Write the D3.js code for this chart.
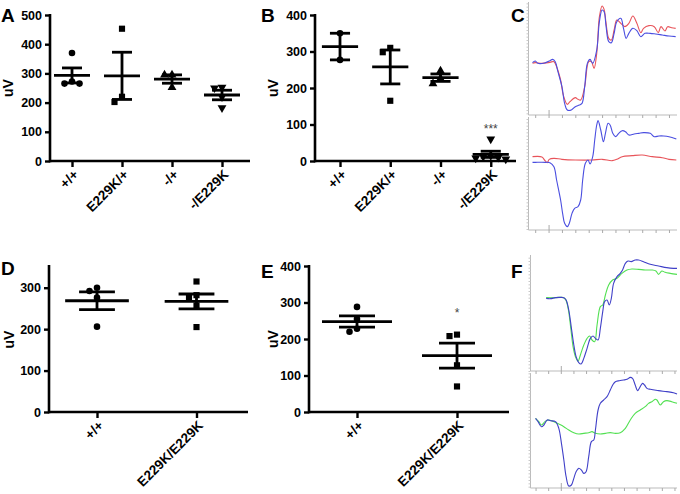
<!DOCTYPE html>
<html><head><meta charset="utf-8">
<script src="https://cdn.jsdelivr.net/npm/d3@7/dist/d3.min.js"></script>
<style>
body{margin:0;background:#fff;}
svg{display:block;font-family:"Liberation Sans",Arial,sans-serif;}
</style></head><body>
<svg id="fig" width="680" height="494"></svg>
<script>
// ---------- DATA ----------
const catsA = ["+/+", "E229K/+", "-/+", "-/E229K"];
const valsA = [[370, 265, 272, 265], [453, 202, 220], [295, 295, 252], [252, 250, 182, 220]];
const ticksA = [0, 100, 200, 300, 400, 500];

const catsB = ["+/+", "E229K/+", "-/+", "-/E229K"];
const valsB = [[350, 277], [310, 298, 165], [247, 226, 212], [60, 15, 10, 8, 5, 12]];
const ticksB = [0, 100, 200, 300, 400];
const starsB = ["", "", "", "***"];

const catsD = ["+/+", "E229K/E229K"];
const valsD = [[300, 292, 276, 206], [315, 282, 275, 257, 205]];
const ticksD = [0, 100, 200, 300];

const catsE = ["+/+", "E229K/E229K"];
const valsE = [[288, 255, 228, 220], [212, 208, 128, 70]];
const ticksE = [0, 100, 200, 300, 400];
const starsE = ["", "*"];

// ERG traces, [time (ms), amplitude]
const traceC1Red = [[-2,0],[0,4],[5,0],[11,6],[14,10],[16,-20],[19,-100],[21,-190],[24,-246],[26,-230],[30,-206],[32,-216],[34,-220],[37,-140],[40,10],[42,10],[44,-30],[46,60],[48,280],[50,344],[51.5,324],[53,240],[55,150],[57,140],[59,200],[61,260],[64,240],[67,220],[70,240],[73,284],[76,240],[79,184],[81,210],[85,226],[89,220],[92,184],[94,220],[97,194],[99,220],[102,214],[105,210]];
const traceC1Blue = [[-2,4],[0,14],[2,0],[7,2],[11,16],[13,24],[15,10],[17,-50],[20,-140],[22,-240],[24,-280],[27,-280],[30,-260],[33,-250],[35,-240],[37,-140],[39,0],[41,24],[43,0],[46,80],[48,250],[50,320],[51.5,310],[53,220],[55,130],[57,124],[59,180],[61,250],[64,270],[66,210],[68,150],[70,180],[73,210],[76,196],[79,160],[82,180],[86,180],[90,176],[95,170],[100,164],[105,160]];
const traceC2Red = [[-2,34],[5,32],[7,14],[9,-2],[10.5,18],[14,24],[20,18],[30,14],[42.5,14],[50,18],[57.5,10],[61,18],[65,34],[72.5,40],[80,44],[87.5,34],[95,28],[100,18],[105.5,14]];
const traceC2Blue = [[-2,0],[0,0],[7.5,0],[11,-2],[14,-26],[16,-106],[19,-226],[20.5,-306],[22,-366],[24,-386],[25.5,-366],[27.5,-306],[29.5,-276],[32,-266],[34,-226],[35.5,-106],[37.5,-6],[39.5,14],[41,-10],[43,34],[44.5,134],[46,224],[47,250],[49,194],[51,124],[52.5,174],[54.5,234],[56,224],[58,174],[60,154],[62.5,174],[65,190],[67.5,184],[70,164],[74,170],[77.5,174],[81,178],[86,174],[89,154],[92.5,158],[96,158],[100,154],[105.5,140]];
const traceF1Blue = [[8.4,-4],[11.8,-6],[15.8,0],[19.7,2],[22.4,0],[24.2,-14],[26.3,-74],[28.4,-184],[30.3,-284],[32.1,-354],[34.2,-390],[36.1,-398],[38.2,-364],[40.8,-304],[43.4,-244],[45.5,-230],[47.4,-244],[49.5,-254],[51.3,-184],[53.2,-84],[54.7,-24],[56.6,-14],[58.4,-44],[60,-4],[61.8,86],[64.5,126],[67.1,146],[68.9,166],[71.1,206],[73.2,220],[75.8,216],[78.9,226],[81.6,226],[85.5,216],[90.8,200],[97.4,190],[103.9,180],[109.2,176],[112,176]];
const traceF1Green = [[8.4,0],[15.8,0],[21,2],[23.7,-10],[25.8,-64],[27.9,-184],[29.7,-294],[31.6,-354],[33.7,-380],[35.5,-344],[38.2,-284],[40.8,-244],[42.9,-230],[44.7,-254],[46.8,-264],[48.7,-164],[51.3,-54],[53.2,-44],[55.3,16],[57.9,76],[61,106],[64.5,116],[68.4,146],[72.4,166],[76.3,172],[81.6,170],[86.8,166],[92.1,166],[95.3,160],[97.4,140],[100,160],[102.6,152],[106.6,146],[112,140]];
const traceF2Blue = [[0,10],[2,-10],[4.7,-40],[6.6,-30],[9.2,0],[11.8,-4],[15.8,-10],[18.4,-50],[20.5,-140],[22.4,-240],[24.2,-340],[26.3,-396],[28.4,-390],[30.3,-350],[32.1,-310],[34.2,-290],[36.3,-300],[38.2,-320],[40,-310],[42.1,-220],[44.2,-130],[46.1,-120],[47.4,-60],[49.5,60],[51.3,100],[53.9,120],[56.6,140],[59.2,180],[61.1,210],[63.2,230],[66.3,236],[69.7,240],[72.4,244],[75,256],[76.8,250],[78.9,210],[80.8,176],[82.9,200],[84.7,220],[86.3,210],[88.2,190],[90.8,184],[97.4,176],[103.9,170],[109.2,164],[112,156]];
const traceF2Green = [[0,10],[2.6,-10],[4.7,-30],[7.4,-10],[10,0],[14.5,-10],[18.4,-24],[22.4,-40],[26.3,-60],[30.3,-76],[34.2,-84],[38.2,-80],[42.1,-76],[44.7,-70],[47.4,-80],[51.3,-84],[55.3,-80],[59.2,-76],[63.2,-80],[67.1,-76],[71.1,-50],[75,0],[78.9,40],[82.9,60],[86.8,80],[89.5,100],[92.1,110],[94.7,124],[96.1,120],[98.7,90],[101.3,110],[103.9,116],[107.9,110],[112,100]];
const traceTicksC = [0,10,20,30,40,50,60,70,80,90,100];
const traceTicksF = [0,10,20,30,40,50,60,70,80,90,100,110];

// ---------- DRAWING ----------
const svg = d3.select("#fig");
const FONT = "'Liberation Sans',Arial,sans-serif";
const shapes = {
  circle: d3.symbol().type(d3.symbolCircle).size(34),
  square: d3.symbol().type(d3.symbolSquare).size(38),
  triangle: d3.symbol().type(d3.symbolTriangle).size(34),
  tridown: d3.symbol().type(d3.symbolTriangle).size(34)
};
const shapeNames = ["circle", "square", "triangle", "tridown"];

function scatterPanel(o) {
  const g = svg.append("g");
  const y = d3.scaleLinear().domain(o.domain).range([o.bottom, o.top]);
  const step = (o.right - o.left) / o.cats.length;
  const x = d3.scalePoint().domain(o.cats).range([o.left + o.firstOff, o.left + o.firstOff + step * (o.cats.length - 1)]);
  const st = (o.cats.length > 1) ? x.step() : step;

  // y axis
  const ya = d3.axisLeft(y).tickValues(o.ticks).tickSize(5).tickPadding(3).tickSizeOuter(0);
  const gy = g.append("g").attr("transform", `translate(${o.left},0)`).call(ya);
  gy.select(".domain").attr("stroke", "#000").attr("stroke-width", 2.6)
    .attr("d", `M0,${o.bottom + 1.3}V${o.axisTop}`);
  gy.selectAll(".tick line").attr("stroke", "#000").attr("stroke-width", 2.4);
  gy.selectAll(".tick text").attr("font-family", FONT).attr("font-weight", "bold")
    .attr("font-size", 12.5).attr("fill", "#000");

  // x axis
  const xa = d3.axisBottom(x).tickSize(6).tickFormat("");
  const gx = g.append("g").attr("transform", `translate(0,${o.bottom})`).call(xa);
  gx.select(".domain").attr("stroke", "#000").attr("stroke-width", 2.6)
    .attr("d", `M${o.left},0H${o.right}`);
  gx.selectAll(".tick line").attr("stroke", "#000").attr("stroke-width", 2.4);
  g.append("g").selectAll("text").data(o.cats).join("text")
    .attr("transform", d => `translate(${x(d) + 4},${o.bottom + 11}) rotate(-45)`)
    .attr("text-anchor", "end").attr("dy", "0.35em")
    .attr("font-family", FONT).attr("font-weight", "bold").attr("font-size", 13.5)
    .text(d => d);

  // y label
  g.append("text").attr("transform", `translate(${o.ylabX},${(o.top + o.bottom) / 2}) rotate(-90)`)
    .attr("text-anchor", "middle").attr("font-family", FONT).attr("font-weight", "bold")
    .attr("font-size", 14).text("uV");
  // panel letter
  g.append("text").attr("x", o.letterX).attr("y", o.letterY).attr("font-family", FONT)
    .attr("font-weight", "bold").attr("font-size", 19).text(o.letter);

  o.vals.forEach((vals, i) => {
    const cx = x(o.cats[i]);
    const mean = d3.mean(vals);
    const sem = d3.deviation(vals) / Math.sqrt(vals.length);
    // points with deterministic dodge
    const pts = vals.map(v => ({ v, py: y(v) })).sort((a, b) => a.py - b.py);
    const placed = [];
    const dx = 7.5, minD = 6.2;
    pts.forEach(p => {
      for (let k = 0; k < 20; k++) {
        const off = (k === 0) ? 0 : (k % 2 ? -1 : 1) * Math.ceil(k / 2) * dx;
        const ok = placed.every(q => Math.hypot(q.px - (cx + off), q.py - p.py) >= minD);
        if (ok) { p.px = cx + off; break; }
      }
      placed.push(p);
    });
    const sh = shapeNames[i % 4];
    g.append("g").selectAll("path").data(placed).join("path")
      .attr("d", shapes[sh]())
      .attr("transform", d => `translate(${d.px},${d.py})${sh === "tridown" ? " rotate(180)" : ""}`)
      .attr("fill", "#000");
    // mean & SEM
    const mw = st * o.meanFrac, cw = st * o.capFrac;
    const eb = g.append("g").attr("stroke", "#000").attr("stroke-width", 2.8);
    eb.append("line").attr("x1", cx - mw).attr("x2", cx + mw).attr("y1", y(mean)).attr("y2", y(mean));
    eb.append("line").attr("x1", cx).attr("x2", cx).attr("y1", y(mean + sem)).attr("y2", y(mean - sem));
    eb.append("line").attr("x1", cx - cw).attr("x2", cx + cw).attr("y1", y(mean + sem)).attr("y2", y(mean + sem));
    eb.append("line").attr("x1", cx - cw).attr("x2", cx + cw).attr("y1", y(mean - sem)).attr("y2", y(mean - sem));
    if (o.stars && o.stars[i]) {
      const top = Math.max(d3.max(vals), mean + sem);
      g.append("text").attr("x", cx).attr("y", y(top) - o.starGap).attr("text-anchor", "middle")
        .attr("font-family", FONT).attr("font-size", 12).attr("fill", "#444").text(o.stars[i]);
    }
  });
}

scatterPanel({ cats: catsA, vals: valsA, ticks: ticksA, domain: [0, 500], left: 50, right: 250, firstOff: 22,
  top: 15, axisTop: 14, bottom: 161, ylabX: 13, letter: "A", letterX: 1, letterY: 22, meanFrac: 0.36, capFrac: 0.2 });
scatterPanel({ cats: catsB, vals: valsB, ticks: ticksB, domain: [0, 400], left: 315, right: 516, firstOff: 25,
  top: 15, axisTop: 14, bottom: 161, ylabX: 278, letter: "B", letterX: 261, letterY: 22, meanFrac: 0.36, capFrac: 0.2,
  stars: starsB, starGap: 6 });
scatterPanel({ cats: catsD, vals: valsD, ticks: ticksD, domain: [0, 350], left: 49, right: 248, firstOff: 48,
  top: 267, axisTop: 265, bottom: 412, ylabX: 14, letter: "D", letterX: 1, letterY: 275, meanFrac: 0.32, capFrac: 0.18 });
scatterPanel({ cats: catsE, vals: valsE, ticks: ticksE, domain: [0, 400], left: 309, right: 509, firstOff: 48,
  top: 266, axisTop: 265, bottom: 412, ylabX: 278, letter: "E", letterX: 261, letterY: 278, meanFrac: 0.35, capFrac: 0.18,
  stars: starsE, starGap: 18 });

// ---------- traces ----------
function tracePanel(o) {
  const g = svg.append("g");
  const x = d3.scaleLinear().domain(o.xdom).range([o.left, o.right]);
  const y = d3.scaleLinear().domain(o.ydom).range([o.bottom, o.top]);
  // left axis with minor ticks
  const ya = d3.axisLeft(y).ticks(40).tickSize(2).tickFormat("").tickSizeOuter(0);
  const gy = g.append("g").attr("transform", `translate(${o.left},0)`).call(ya);
  gy.select(".domain").attr("stroke", "#bbb").attr("d", `M0,${o.bottom}V${o.top}`);
  gy.selectAll(".tick line").attr("stroke", "#c8c8c8");
  const xa = d3.axisBottom(x).tickValues(o.xticks).tickSize(3).tickFormat("");
  const gx = g.append("g").attr("transform", `translate(0,${o.bottom})`).call(xa);
  gx.select(".domain").attr("stroke", "#bbb").attr("d", `M${o.left},0H${o.right}`);
  gx.selectAll(".tick line").attr("stroke", "#aaa");
  gx.selectAll(".tick").filter(d => d === o.tallTick).select("line").attr("y1", -5);
  const line = d3.line().x(d => x(d[0])).y(d => y(d[1])).curve(d3.curveCatmullRom.alpha(0.5));
  o.traces.forEach(t => {
    g.append("path").datum(t.data).attr("d", line).attr("fill", "none")
      .attr("stroke", t.color).attr("stroke-width", 1.1);
  });
}

tracePanel({ xdom: [-5, 106], left: 528.5, right: 677, ydom: [-310, 368], top: 2, bottom: 115,
  xticks: traceTicksC, tallTick: 10,
  traces: [{ data: traceC1Red, color: "#e8545a" }, { data: traceC1Blue, color: "#4a4ee0" }] });
tracePanel({ xdom: [-5, 106], left: 528.5, right: 677, ydom: [-406, 272], top: 117, bottom: 230,
  xticks: traceTicksC, tallTick: 10,
  traces: [{ data: traceC2Red, color: "#e8545a" }, { data: traceC2Blue, color: "#4a4ee0" }] });
tracePanel({ xdom: [-4, 112], left: 530.5, right: 677, ydom: [-440, 256], top: 255, bottom: 371,
  xticks: traceTicksF, tallTick: 20,
  traces: [{ data: traceF1Green, color: "#52e052" }, { data: traceF1Blue, color: "#4040c8" }] });
tracePanel({ xdom: [-4, 112], left: 530.5, right: 677, ydom: [-408, 282], top: 373, bottom: 488,
  xticks: traceTicksF, tallTick: 20,
  traces: [{ data: traceF2Green, color: "#52e052" }, { data: traceF2Blue, color: "#4040c8" }] });

svg.append("text").attr("x", 511).attr("y", 22).attr("font-family", FONT).attr("font-weight", "bold")
  .attr("font-size", 19).text("C");
svg.append("text").attr("x", 511).attr("y", 278).attr("font-family", FONT).attr("font-weight", "bold")
  .attr("font-size", 19).text("F");
</script>
</body></html>
